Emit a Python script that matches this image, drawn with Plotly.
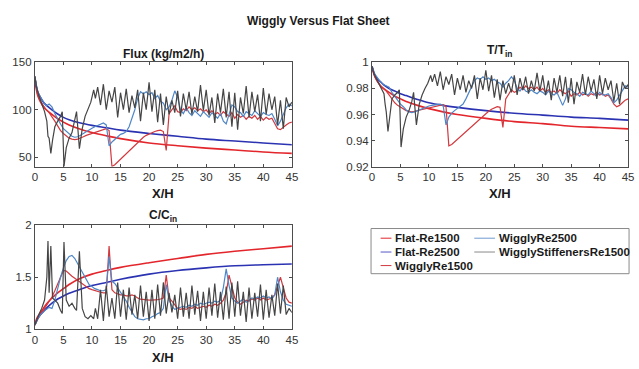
import numpy as np
import plotly.graph_objects as go

W, H = 639, 369

# ---------------- data ----------------
series_names = ["Flat-Re1500", "Flat-Re2500", "WigglyRe1500", "WigglyRe2500", "WigglyStiffenersRe1500"]
series_colors = ["#e3262c", "#2b33b2", "#d2393f", "#4f86c6", "#454545"]
legend_colors = ["#e3262c", "#5558c8", "#d2393f", "#6f9ad0", "#8a8a8a"]

# flat sheet (smooth) curves
x_flat = [0, 0.25, 0.5, 1, 1.5, 2, 3, 4, 5, 6, 8, 10, 12.5, 15, 20, 25, 30, 35, 40, 45]
flux_flat1500 = [135, 122, 115, 108, 103, 100, 95, 90.5, 87, 84, 79.5, 76, 72.5, 69.5, 65, 62, 59.5, 57.5, 55.5, 54]
flux_flat2500 = [135, 125, 119, 113, 108, 105, 100, 95.5, 92, 89.5, 86, 83.5, 81, 78.5, 75, 72, 69, 67, 65, 63]
t_flat1500 = [0.997, 0.992, 0.989, 0.985, 0.982, 0.980, 0.977, 0.974, 0.972, 0.970, 0.967, 0.9645, 0.962, 0.960, 0.957, 0.9545, 0.953, 0.951, 0.950, 0.949]
t_flat2500 = [0.997, 0.993, 0.990, 0.987, 0.985, 0.983, 0.980, 0.978, 0.976, 0.9745, 0.9715, 0.969, 0.967, 0.9655, 0.963, 0.961, 0.9595, 0.958, 0.957, 0.9557]
c_flat1500 = [1.04, 1.09, 1.12, 1.16, 1.20, 1.24, 1.30, 1.35, 1.39, 1.43, 1.49, 1.53, 1.565, 1.595, 1.64, 1.68, 1.72, 1.75, 1.775, 1.80]
c_flat2500 = [1.04, 1.07, 1.10, 1.14, 1.17, 1.20, 1.25, 1.29, 1.32, 1.345, 1.385, 1.42, 1.45, 1.48, 1.53, 1.565, 1.59, 1.61, 1.62, 1.627]

# wiggly sheets, sampled every 0.5 X/H
x_wig = list(np.arange(0, 45.01, 0.5))
flux_wig1500 = [135, 116, 109, 104, 100, 97, 93, 88, 83, 78,
                75, 72, 70, 69, 68.5, 69, 70, 71.5, 73, 74,
                75, 76, 77, 78, 79, 80, 78, 40, 42, 45,
                48, 51, 54, 57, 60, 63, 66, 68.5, 71, 73,
                74.5, 76, 77, 78, 78.5, 77, 57, 96, 100, 104,
                98, 97, 101, 99, 103, 100, 102, 99, 101, 98,
                100, 96, 99, 95, 97, 94, 98, 95, 93, 97,
                91, 95, 92, 94, 90, 93, 91, 94, 90, 93,
                89, 92, 90, 91, 86, 80, 79, 82, 84, 86,
                87]
flux_wig2500 = [135, 119, 113, 108, 104, 106, 103, 96, 90, 85,
                80, 77, 74, 72, 71, 71.5, 73, 75, 77, 79,
                80.5, 82, 83.5, 85, 86, 84, 62, 66, 69, 72,
                74, 75, 77, 82, 90, 100, 112, 119, 117, 119,
                116, 118, 112, 115, 109, 107, 100, 103, 110, 120,
                113, 100, 96, 102, 97, 94, 99, 96, 93, 98,
                95, 92, 97, 94, 91, 96, 88, 85, 95, 105,
                103, 98, 97, 93, 98, 96, 94, 99, 96, 93,
                97, 95, 94, 96, 90, 83, 88, 96, 102, 106,
                104]
t_wig1500 = [0.997, 0.989, 0.985, 0.982, 0.980, 0.978, 0.975, 0.972, 0.969, 0.967,
             0.9655, 0.964, 0.963, 0.9625, 0.962, 0.9625, 0.963, 0.9635, 0.964, 0.9645,
             0.965, 0.9655, 0.966, 0.9665, 0.967, 0.9675, 0.966, 0.936, 0.937, 0.939,
             0.941, 0.943, 0.945, 0.947, 0.949, 0.951, 0.953, 0.955, 0.957, 0.959,
             0.961, 0.9625, 0.964, 0.965, 0.966, 0.9655, 0.950, 0.972, 0.976, 0.979,
             0.977, 0.978, 0.981, 0.979, 0.982, 0.980, 0.981, 0.979, 0.981, 0.978,
             0.980, 0.977, 0.979, 0.977, 0.978, 0.976, 0.979, 0.977, 0.976, 0.978,
             0.974, 0.976, 0.975, 0.977, 0.975, 0.976, 0.974, 0.976, 0.975, 0.977,
             0.975, 0.976, 0.974, 0.975, 0.972, 0.968, 0.966, 0.967, 0.969, 0.971,
             0.972]
t_wig2500 = [0.997, 0.991, 0.988, 0.985, 0.983, 0.982, 0.981, 0.977, 0.974, 0.971,
             0.968, 0.966, 0.9635, 0.962, 0.9615, 0.962, 0.963, 0.964, 0.965, 0.966,
             0.9665, 0.967, 0.9675, 0.968, 0.968, 0.967, 0.952, 0.958, 0.961, 0.963,
             0.9645, 0.966, 0.968, 0.972, 0.977, 0.982, 0.986, 0.988, 0.987, 0.989,
             0.987, 0.988, 0.986, 0.987, 0.985, 0.984, 0.981, 0.984, 0.986, 0.989,
             0.986, 0.980, 0.978, 0.981, 0.978, 0.977, 0.979, 0.977, 0.976, 0.978,
             0.977, 0.975, 0.978, 0.976, 0.975, 0.977, 0.972, 0.967, 0.972, 0.980,
             0.979, 0.977, 0.976, 0.974, 0.977, 0.976, 0.975, 0.978, 0.976, 0.974,
             0.977, 0.975, 0.975, 0.976, 0.973, 0.969, 0.971, 0.975, 0.979, 0.982,
             0.981]
c_wig1500 = [1.04, 1.10, 1.14, 1.18, 1.22, 1.26, 1.31, 1.37, 1.44, 1.51,
             1.565, 1.56, 1.53, 1.51, 1.49, 1.47, 1.45, 1.43, 1.41, 1.39,
             1.38, 1.37, 1.36, 1.355, 1.35, 1.35, 1.80, 1.38, 1.35, 1.34,
             1.33, 1.33, 1.32, 1.32, 1.33, 1.32, 1.30, 1.29, 1.285, 1.28,
             1.28, 1.28, 1.28, 1.285, 1.29, 1.30, 1.52, 1.30, 1.27, 1.24,
             1.20, 1.19, 1.20, 1.19, 1.21, 1.20, 1.22, 1.20, 1.21, 1.22,
             1.21, 1.23, 1.22, 1.24, 1.23, 1.25, 1.28, 1.35, 1.52, 1.40,
             1.30, 1.26, 1.24, 1.26, 1.28, 1.27, 1.29, 1.28, 1.30, 1.28,
             1.30, 1.28, 1.29, 1.30, 1.33, 1.42, 1.50, 1.40, 1.30, 1.26,
             1.25]
c_wig2500 = [1.04, 1.10, 1.14, 1.17, 1.19, 1.21, 1.20, 1.28, 1.40, 1.50,
             1.59, 1.66, 1.70, 1.71, 1.68, 1.63, 1.58, 1.52, 1.47, 1.43,
             1.41, 1.39, 1.38, 1.37, 1.37, 1.38, 1.70, 1.46, 1.44, 1.40,
             1.36, 1.32, 1.27, 1.21, 1.16, 1.12, 1.10, 1.095, 1.09, 1.10,
             1.10, 1.12, 1.13, 1.15, 1.16, 1.20, 1.43, 1.28, 1.22, 1.19,
             1.20, 1.21, 1.22, 1.21, 1.23, 1.22, 1.24, 1.23, 1.25, 1.24,
             1.25, 1.26, 1.25, 1.27, 1.26, 1.28, 1.40, 1.58, 1.42, 1.30,
             1.27, 1.25, 1.27, 1.29, 1.26, 1.28, 1.30, 1.29, 1.31, 1.30,
             1.32, 1.30, 1.31, 1.29, 1.33, 1.50, 1.36, 1.28, 1.24, 1.23,
             1.22]

# wiggly sheet with stiffeners
x_stiff = [0, 0.3, 0.7, 1.2, 1.7, 2.1, 2.3, 2.5, 2.8, 3.1, 3.5, 4.0, 4.5, 4.8, 5.1, 5.5, 6.0, 6.5,
           7.0, 7.3, 7.8, 8.3, 8.8, 9.3, 9.8, 10.3, 10.6] + list(np.arange(11, 45.01, 0.5))
flux_stiff = [135, 124, 115, 106, 98, 88, 72, 70, 54, 68, 82, 88, 93, 98, 40, 60, 70, 76,
              90, 98, 59, 80, 93, 100, 108, 121, 112,
              124, 105, 127, 100, 120, 108, 124, 92, 118, 100,
              122, 97, 115, 102, 121, 88, 118, 100, 129, 98,
              121, 87, 117, 84, 114, 95, 110, 97, 120, 93,
              117, 100, 119, 95, 114, 98, 126, 99, 121, 94,
              113, 86, 117, 97, 122, 92, 119, 82, 118, 79,
              113, 96, 125, 92, 119, 98, 116, 88, 123, 95,
              117, 100, 114, 84, 110, 80, 113, 103, 108]
t_stiff = [0.997, 0.992, 0.988, 0.984, 0.980, 0.976, 0.968, 0.962, 0.947, 0.960, 0.972, 0.975, 0.977, 0.979,
           0.935, 0.949, 0.958, 0.963, 0.970, 0.977, 0.952, 0.968, 0.975, 0.980, 0.984, 0.990, 0.985,
           0.991, 0.982, 0.993, 0.979, 0.989, 0.983, 0.991, 0.975, 0.988, 0.979,
           0.990, 0.977, 0.986, 0.980, 0.990, 0.972, 0.988, 0.979, 0.994, 0.978,
           0.990, 0.973, 0.987, 0.971, 0.986, 0.976, 0.984, 0.977, 0.990, 0.975,
           0.988, 0.979, 0.989, 0.976, 0.986, 0.978, 0.992, 0.978, 0.990, 0.975,
           0.986, 0.971, 0.988, 0.977, 0.990, 0.974, 0.989, 0.969, 0.988, 0.968,
           0.985, 0.977, 0.991, 0.975, 0.989, 0.978, 0.987, 0.972, 0.990, 0.976,
           0.988, 0.979, 0.986, 0.970, 0.984, 0.968, 0.985, 0.980, 0.983]
c_stiff = [1.04, 1.09, 1.14, 1.20, 1.28, 1.50, 1.85, 1.35, 1.80, 1.30, 1.28, 1.25, 1.18, 1.15,
           1.84, 1.28, 1.22, 1.25, 1.20, 1.18, 1.75, 1.20, 1.12, 1.10, 1.13, 1.10, 1.20,
           1.10, 1.38, 1.08, 1.42, 1.12, 1.30, 1.10, 1.45, 1.12, 1.38,
           1.09, 1.40, 1.14, 1.33, 1.10, 1.42, 1.12, 1.36, 1.08, 1.38,
           1.10, 1.43, 1.13, 1.45, 1.15, 1.35, 1.16, 1.33, 1.10, 1.40,
           1.12, 1.35, 1.10, 1.42, 1.14, 1.37, 1.08, 1.36, 1.10, 1.40,
           1.13, 1.44, 1.11, 1.36, 1.09, 1.41, 1.10, 1.45, 1.12, 1.46,
           1.13, 1.36, 1.07, 1.40, 1.10, 1.35, 1.12, 1.43, 1.09, 1.38,
           1.11, 1.33, 1.13, 1.44, 1.15, 1.42, 1.14, 1.20, 1.16]

x_ticks = [0, 5, 10, 15, 20, 25, 30, 35, 40, 45]
flux_ticks = [50, 100, 150]
t_ticks = [0.92, 0.94, 0.96, 0.98, 1]
t_tick_labels = ["0.92", "0.94", "0.96", "0.98", "1"]
c_ticks = [1, 1.5, 2]

# ---------------- figure ----------------
FONT = "Liberation Sans, Arial, sans-serif"
AXC = "#4d4d4d"


def px(x):
    return x / W


def py(y):
    return 1 - y / H


fig = go.Figure()

panels = [
    ("x", "y", [flux_flat1500, flux_flat2500, flux_wig1500, flux_wig2500, flux_stiff]),
    ("x2", "y2", [t_flat1500, t_flat2500, t_wig1500, t_wig2500, t_stiff]),
    ("x3", "y3", [c_flat1500, c_flat2500, c_wig1500, c_wig2500, c_stiff]),
]
xs = [x_flat, x_flat, x_wig, x_wig, x_stiff]
widths = [1.6, 1.6, 1.2, 1.2, 1.2]
for xa, ya, ys in panels:
    for i in range(5):
        fig.add_trace(go.Scatter(
            x=xs[i], y=ys[i], mode="lines", name=series_names[i],
            line=dict(color=series_colors[i], width=widths[i],
                      shape="spline" if i < 2 else "linear"),
            xaxis=xa, yaxis=ya, showlegend=False, legendgroup=series_names[i],
            hoverinfo="skip"))

axis_common = dict(showline=True, linecolor=AXC, linewidth=1, mirror="ticks",
                   ticks="inside", ticklen=3, tickcolor=AXC, showgrid=False,
                   zeroline=False, tickfont=dict(family=FONT, size=11.5, color="#333333"))

dom_x_left = [px(32.3), px(293)]
dom_x_right = [px(374.3), px(634)]
dom_y_top = [py(166), py(58.3)]
dom_y_bot = [py(334), py(226.7)]

fig.update_layout(
    width=W, height=H, margin=dict(l=0, r=0, t=0, b=0),
    paper_bgcolor="white", plot_bgcolor="white", showlegend=False,
    font=dict(family=FONT, size=12, color="#222222"),
    xaxis=dict(domain=dom_x_left, range=[0, 45], tickvals=x_ticks, anchor="y", **axis_common),
    yaxis=dict(domain=dom_y_top, range=[40, 150], tickvals=flux_ticks, anchor="x", **axis_common),
    xaxis2=dict(domain=dom_x_right, range=[0, 45], tickvals=x_ticks, anchor="y2", **axis_common),
    yaxis2=dict(domain=dom_y_top, range=[0.92, 1], tickvals=t_ticks, ticktext=t_tick_labels,
                anchor="x2", **axis_common),
    xaxis3=dict(domain=dom_x_left, range=[0, 45], tickvals=x_ticks, anchor="y3", **axis_common),
    yaxis3=dict(domain=dom_y_bot, range=[1, 2], tickvals=c_ticks, anchor="x3", **axis_common),
)

ann = []


def text(x, y, s, size, bold=True, xanchor="center"):
    ann.append(dict(x=px(x), y=py(y), xref="paper", yref="paper", text=s, showarrow=False,
                    xanchor=xanchor, yanchor="middle",
                    font=dict(family=FONT, size=size, color="#1a1a1a",
                              weight="bold" if bold else "normal")))


text(320, 15, "Wiggly Versus Flat Sheet", 12)
text(162.5, 50, "Flux (kg/m2/h)", 12)
text(504, 46, "T/T<sub>in</sub>", 12)
text(162.5, 217, "C/C<sub>in</sub>", 12)
text(162.5, 194, "X/H", 13)
text(504, 194, "X/H", 13)
text(162.5, 363, "X/H", 13)

# legend (two columns, MATLAB style)
shapes = [dict(type="rect", xref="paper", yref="paper", x0=px(373.3), x1=px(635),
               y0=py(276.7), y1=py(230), line=dict(color="#8a8a8a", width=1),
               fillcolor="white", layer="above")]
leg_pos = [(383, 396, 240), (478, 501, 240), (383, 396, 254.3), (478, 501, 254.3), (383, 396, 268.3)]
leg_order = [0, 3, 1, 4, 2]
for (lx, tx, ly), idx in zip(leg_pos, leg_order):
    shapes.append(dict(type="line", xref="paper", yref="paper", x0=px(lx), x1=px(tx - 2),
                       y0=py(ly), y1=py(ly), line=dict(color=legend_colors[idx], width=1),
                       layer="above"))
    text(tx, ly, series_names[idx], 11.5, xanchor="left")

fig.update_layout(annotations=ann, shapes=shapes)
fig.write_html("out.html")
